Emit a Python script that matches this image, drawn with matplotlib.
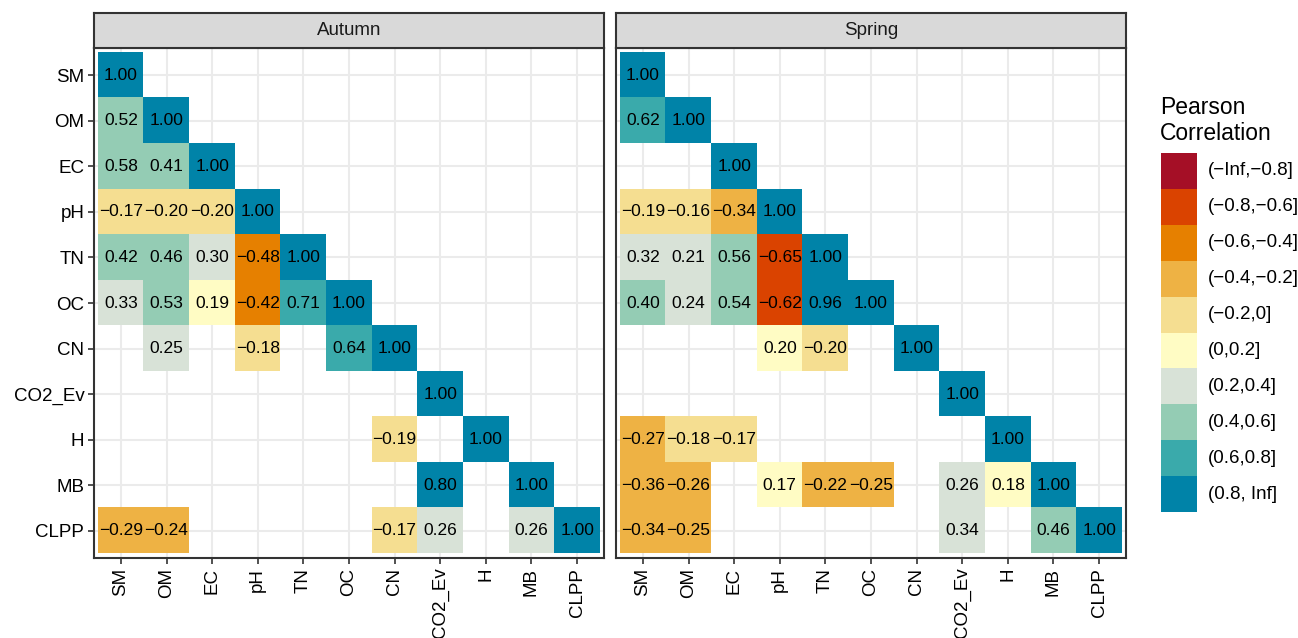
import numpy as np
import matplotlib
matplotlib.use("Agg")
import matplotlib.pyplot as plt
from matplotlib.colors import ListedColormap

plt.rcParams['font.family'] = ['Liberation Sans', 'DejaVu Sans']

variables = ["SM", "OM", "EC", "pH", "TN", "OC", "CN", "CO2_Ev", "H", "MB", "CLPP"]
seasons = ["Autumn", "Spring"]

# lower triangle, row by row (None = not significant)
autumn = [
    [1.00],
    [0.52, 1.00],
    [0.58, 0.41, 1.00],
    [-0.17, -0.198, -0.198, 1.00],
    [0.42, 0.46, 0.30, -0.48, 1.00],
    [0.33, 0.53, 0.19, -0.42, 0.71, 1.00],
    [None, 0.25, None, -0.18, None, 0.64, 1.00],
    [None, None, None, None, None, None, None, 1.00],
    [None, None, None, None, None, None, -0.19, None, 1.00],
    [None, None, None, None, None, None, None, 0.802, None, 1.00],
    [-0.29, -0.24, None, None, None, None, -0.17, 0.26, None, 0.26, 1.00],
]
spring = [
    [1.00],
    [0.62, 1.00],
    [None, None, 1.00],
    [-0.19, -0.16, -0.34, 1.00],
    [0.32, 0.21, 0.56, -0.65, 1.00],
    [0.404, 0.24, 0.54, -0.62, 0.96, 1.00],
    [None, None, None, 0.198, -0.198, None, 1.00],
    [None, None, None, None, None, None, None, 1.00],
    [-0.27, -0.18, -0.17, None, None, None, None, None, 1.00],
    [-0.36, -0.26, None, 0.17, -0.22, -0.25, None, 0.26, 0.18, 1.00],
    [-0.34, -0.25, None, None, None, None, None, 0.34, None, 0.46, 1.00],
]

bin_edges = [-0.8, -0.6, -0.4, -0.2, 0, 0.2, 0.4, 0.6, 0.8]
bin_labels = ["(\u2212Inf,\u22120.8]", "(\u22120.8,\u22120.6]", "(\u22120.6,\u22120.4]",
              "(\u22120.4,\u22120.2]", "(\u22120.2,0]", "(0,0.2]", "(0.2,0.4]",
              "(0.4,0.6]", "(0.6,0.8]", "(0.8, Inf]"]
bin_colors = ["#A50F26", "#DA4300", "#E68000", "#EEB244", "#F5DE91",
              "#FFFCC4", "#D8E2D7", "#94CCB4", "#3AAAAB", "#0083A8"]

W, H = 1298, 638
fig = plt.figure(figsize=(W / 100, H / 100), dpi=100)


def px_axes(x0, y0, x1, y1):
    return fig.add_axes([x0 / W, 1 - y1 / H, (x1 - x0) / W, (y1 - y0) / H])


cmap = ListedColormap(bin_colors)
n = len(variables)
panels = [(94, 604), (616, 1126)]

for k, (season, tri) in enumerate(zip(seasons, [autumn, spring])):
    x0, x1 = panels[k]
    ax = px_axes(x0, 48, x1, 558)
    grid = np.full((n, n), np.nan)
    for i, row in enumerate(tri):
        for j, v in enumerate(row):
            if v is not None:
                grid[i, j] = np.digitize(v, bin_edges, right=True)
                ax.text(j, i, f"{v:.2f}".replace("-", "\u2212"), ha='center', va='center',
                        fontsize=12.5, color='black', zorder=3)
    ax.imshow(grid, cmap=cmap, vmin=-0.5, vmax=9.5, aspect='auto',
              interpolation='nearest', extent=(-0.5, n - 0.5, n - 0.5, -0.5), zorder=1)
    ax.set_xlim(-0.59, n - 0.41)
    ax.set_ylim(n - 0.4, -0.6)
    ax.set_xticks(range(n))
    ax.set_xticklabels(variables, rotation=90, fontsize=13.5)
    ax.set_yticks(range(n))
    if k == 0:
        ax.set_yticklabels(variables, fontsize=13.5)
        ax.tick_params(axis='y', length=4, width=1.2, color='#333333', pad=3)
    else:
        ax.set_yticklabels([])
        ax.tick_params(axis='y', length=0)
    ax.tick_params(axis='x', length=4, width=1.2, color='#333333', pad=3)
    ax.set_axisbelow(True)
    ax.grid(True, color='#EBEBEB', linewidth=1.5, zorder=0)
    for s in ax.spines.values():
        s.set_color('#333333')
        s.set_linewidth(1.5)
        s.set_zorder(5)

    sax = px_axes(x0, 13, x1, 48)
    sax.set_facecolor('#D9D9D9')
    sax.set_xticks([])
    sax.set_yticks([])
    for s in sax.spines.values():
        s.set_color('#333333')
        s.set_linewidth(1.5)
    sax.text(0.5, 0.5, season, ha='center', va='center', fontsize=13.5,
             color='#1A1A1A', transform=sax.transAxes)

# legend
lax = px_axes(1161, 153, 1197, 512)
lax.barh(np.arange(10) + 0.5, [1] * 10, height=1, left=0, color=bin_colors)
lax.set_xlim(0, 1)
lax.set_ylim(10, 0)
lax.axis('off')
for i, lab in enumerate(bin_labels):
    lax.text(1.3, i + 0.5, lab, ha='left', va='center', fontsize=13.5, clip_on=False)
fig.text(1160 / W, 1 - 96 / H, "Pearson\nCorrelation", ha='left', va='top',
         fontsize=16.5, linespacing=1.15)

fig.savefig("out.png", dpi=100)
